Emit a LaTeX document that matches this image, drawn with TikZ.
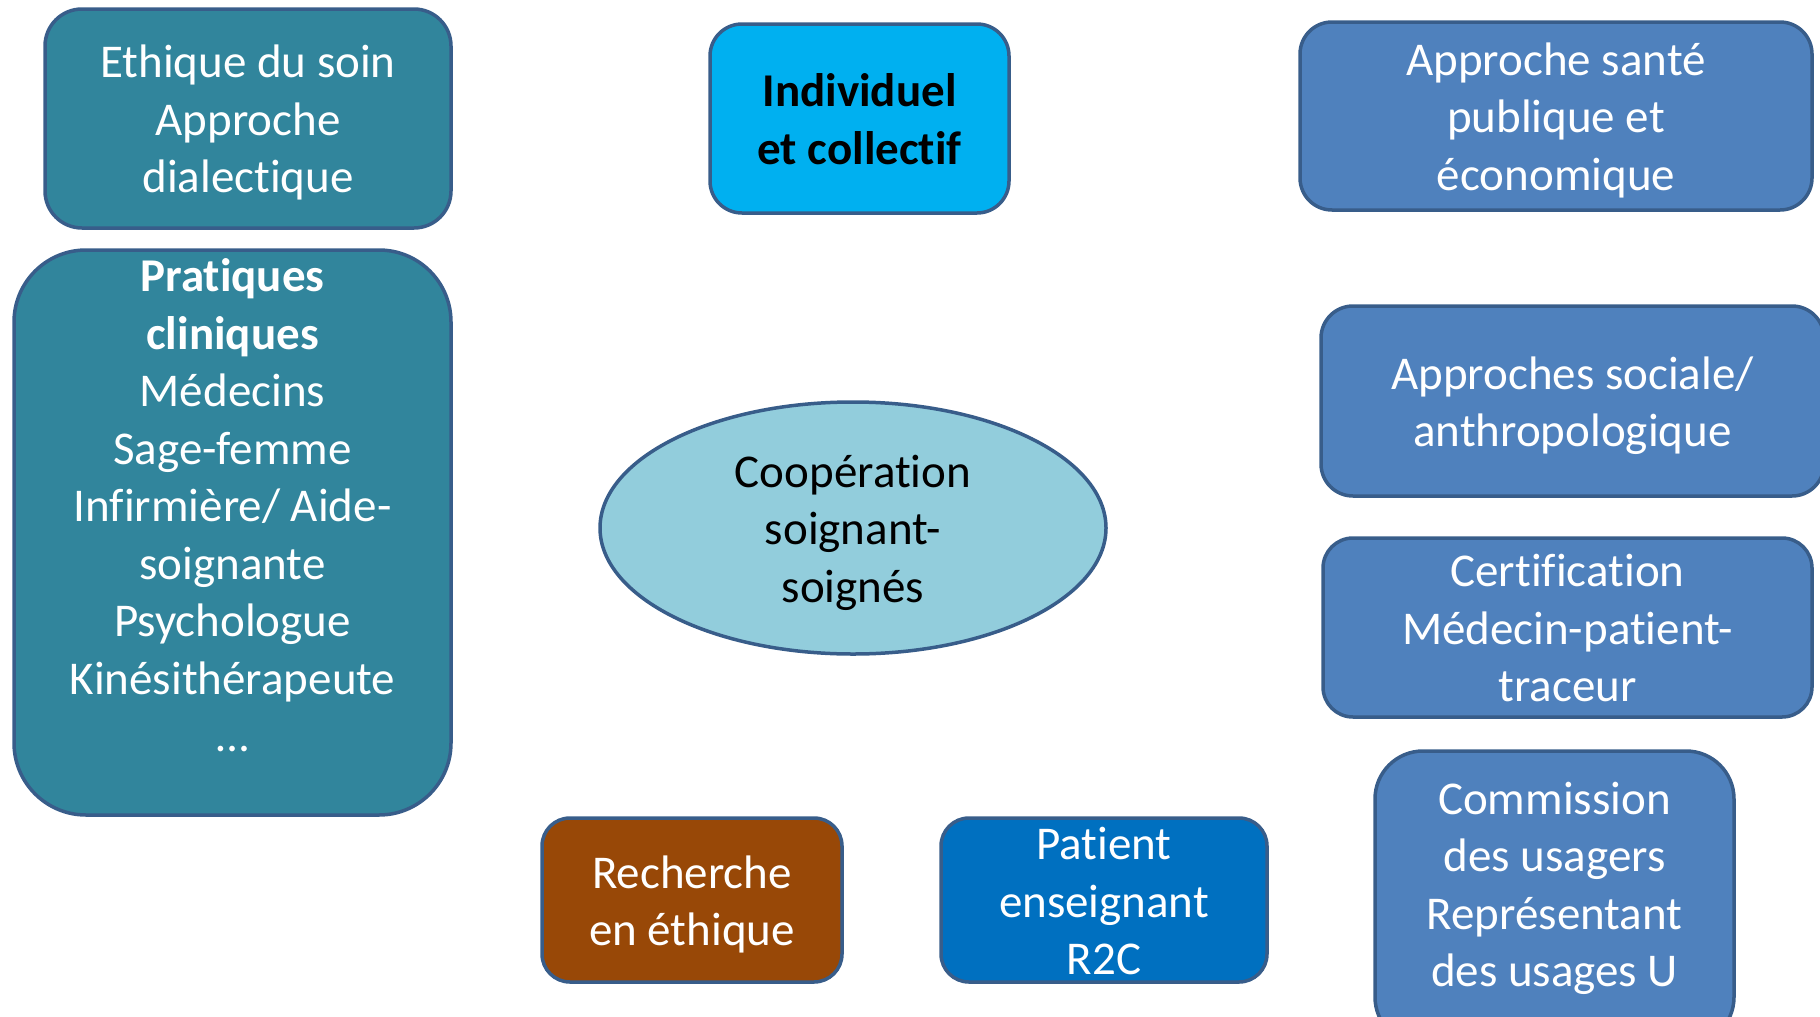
\documentclass[tikz,border=0pt]{standalone}
\usepackage{fontspec}
\setmainfont{Carlito}[Ligatures={CommonOff,ContextualOff}]
\usetikzlibrary{shapes.geometric}
\newcommand\diagfont{\fontsize{47}{57.5}\selectfont}
\newcommand\boxstrut{\rule[-10pt]{0pt}{53.7pt}}
\tikzset{
  rbox/.style={rectangle, rounded corners=#1, draw=r56g93b138, line width=3.5pt,
    inner sep=0pt, align=center, text=white, font=\diagfont},
  boxtext/.style={inner sep=0pt, align=center, text=white, font=\diagfont},
}
\begin{document}
\begin{tikzpicture}[x=1pt,y=-1pt]
% \clip to the page, 1820 x 1017
\clip (0,0) rectangle (1820,1017);

% Changing colours
\definecolor{r56g93b138}{RGB}{56,93,138}%
\definecolor{r49g133b156}{RGB}{49,133,156}%
\definecolor{r79g129b189}{RGB}{79,129,189}%
\definecolor{r0g176b240}{RGB}{0,176,240}%
\definecolor{r146g205b220}{RGB}{146,205,220}%
\definecolor{r152g72b7}{RGB}{152,72,7}%
\definecolor{r0g112b192}{RGB}{0,112,192}%

% Box Ethique du soin
\node (ethique) at (248,118.5) [rbox=37pt, fill=r49g133b156, minimum width=406pt, minimum height=219pt]
  {\boxstrut Ethique du soin\\Approche\\dialectique\boxstrut};

% Box Pratiques cliniques
\node (pratiques) at (232.5,532.5) [rbox=72pt, fill=r49g133b156, minimum width=437pt, minimum height=565pt] {};
\node (pratiquesText) at ([yshift=27pt]pratiques.center) [boxtext]
  {\textbf{Pratiques}\\\textbf{cliniques}\\Médecins\\Sage-femme\\Infirmière/ Aide-\\soignante\\Psychologue\\Kinésithérapeute\\…};

% Box Individuel et collectif
\node (individuel) at (859.5,118.5) [rbox=32pt, fill=r0g176b240, text=black, minimum width=299pt, minimum height=189pt]
  {\boxstrut\textbf{Individuel}\\\textbf{et collectif}\boxstrut};

% Ellipse Cooperation
\node (cooperation) at (853,528) [ellipse, draw=r56g93b138, line width=3.5pt, fill=r146g205b220, inner sep=0pt,
  align=center, font=\diagfont, minimum width=506pt, minimum height=252pt]
  {\boxstrut Coopération\\soignant-\\soignés\boxstrut};

% Box Approche sante publique
\node (sante) at (1556,116) [rbox=32pt, fill=r79g129b189, minimum width=512pt, minimum height=188pt]
  {\boxstrut Approche santé\\publique et\\économique\boxstrut};

% Box Approches sociale
\node (sociale) at (1572.5,401) [rbox=32pt, fill=r79g129b189, minimum width=503pt, minimum height=190pt]
  {\boxstrut Approches sociale/\\anthropologique\boxstrut};

% Box Certification
\node (certification) at (1567.5,627.5) [rbox=30pt, fill=r79g129b189, minimum width=489pt, minimum height=179pt]
  {\boxstrut Certification\\Médecin-patient-\\traceur\boxstrut};

% Box Commission des usagers
\node (commission) at (1554.5,898) [rbox=48pt, fill=r79g129b189, minimum width=359pt, minimum height=294pt] {};
\node (commissionText) at ([yshift=9.5pt]commission.center) [boxtext]
  {Commission\\des usagers\\Représentant\\des usages U};

% Box Recherche en ethique
\node (recherche) at (692,900) [rbox=28pt, fill=r152g72b7, minimum width=300pt, minimum height=164pt]
  {\boxstrut Recherche\\en éthique\boxstrut};

% Box Patient enseignant
\node (patient) at (1104,900) [rbox=28pt, fill=r0g112b192, minimum width=326pt, minimum height=164pt] {};
\node (patientText) at ([yshift=-1pt]patient.center) [boxtext]
  {Patient\\enseignant\\R2C};
\end{tikzpicture}
\end{document}
